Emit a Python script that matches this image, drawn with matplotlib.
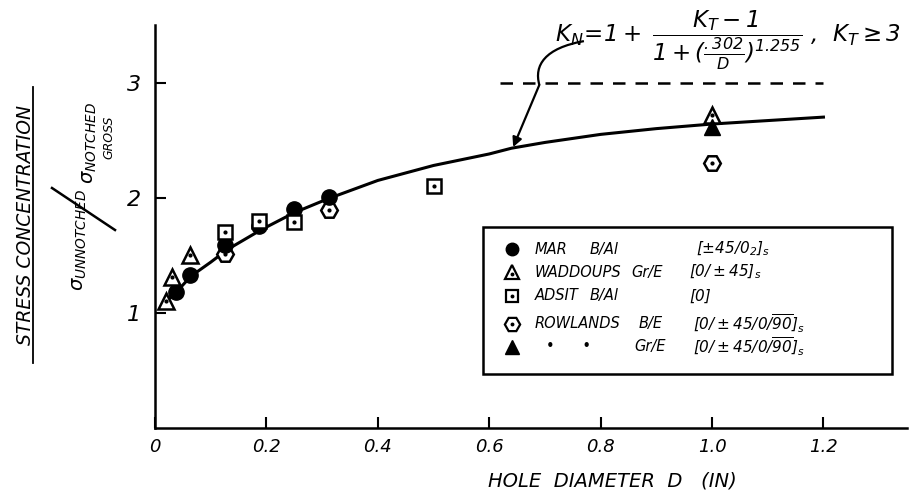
import matplotlib
matplotlib.use("Agg")
import matplotlib.pyplot as plt
from matplotlib.lines import Line2D
from matplotlib.patches import Rectangle
from matplotlib.path import Path
from matplotlib.patches import PathPatch

plt.rcParams['font.family'] = ['DejaVu Sans']
plt.rcParams['font.style'] = 'italic'
plt.rcParams['mathtext.fontset'] = 'dejavusans'
plt.rcParams['mathtext.default'] = 'it'

# ---- data ----
curve_d = [0.015, 0.04, 0.065, 0.10, 0.13, 0.19, 0.25, 0.31, 0.40, 0.50, 0.60, 0.64, 0.70, 0.80, 0.90, 1.00, 1.10, 1.20]
curve_k = [1.08, 1.19, 1.32, 1.44, 1.55, 1.72, 1.87, 1.99, 2.15, 2.28, 2.38, 2.43, 2.48, 2.55, 2.60, 2.64, 2.67, 2.70]

kt_limit = 3.0
kt_line_d = [0.62, 1.20]

mar_d = [0.0375, 0.0625, 0.125, 0.1875, 0.25, 0.3125]
mar_k = [1.18, 1.33, 1.59, 1.75, 1.90, 2.01]

wad_d = [0.019, 0.031, 0.0625, 1.0]
wad_k = [1.10, 1.31, 1.50, 2.72]

adsit_d = [0.125, 0.1875, 0.25, 0.50]
adsit_k = [1.70, 1.80, 1.79, 2.10]

row_be_d = [0.125, 0.3125, 1.0]
row_be_k = [1.51, 1.89, 2.30]

row_gr_d = [1.0]
row_gr_k = [2.61]

x_ticks = [0, 0.2, 0.4, 0.6, 0.8, 1.0, 1.2]
x_tick_labels = ["0", "0.2", "0.4", "0.6", "0.8", "1.0", "1.2"]
y_ticks = [1, 2, 3]
y_tick_labels = ["1", "2", "3"]

legend_names = ["MAR", "WADDOUPS", "ADSIT", "ROWLANDS", "•      •"]
legend_mats = ["B/Al", "Gr/E", "B/Al", "B/E", "Gr/E"]
legend_layups = [r"$[\pm45/0_2]_s$", r"$[0/\pm45]_s$", "[0]",
                 r"$[0/\pm45/0/\overline{90}]_s$", r"$[0/\pm45/0/\overline{90}]_s$"]

# ---- figure ----
fig = plt.figure(figsize=(9.2, 5), dpi=100)
ax = fig.add_axes([155/920, 72/500, 752/920, 403/500])
ax.set_xlim(0, 1.35)
ax.set_ylim(0, 3.5)
for s in ['top', 'right']:
    ax.spines[s].set_visible(False)
for s in ['left', 'bottom']:
    ax.spines[s].set_linewidth(1.8)

ax.set_xticks(x_ticks)
ax.set_xticklabels(x_tick_labels, fontsize=13)
ax.set_yticks(y_ticks)
ax.set_yticklabels(y_tick_labels, fontsize=16)
ax.tick_params(axis='both', direction='in', length=8, width=1.5)
ax.tick_params(axis='x', pad=7)
ax.tick_params(axis='y', pad=10)

# curve and limit line
ax.plot(curve_d, curve_k, color='black', lw=2.2, zorder=2)
ax.plot(kt_line_d, [kt_limit, kt_limit], color='black', lw=1.8,
        linestyle=(0, (5, 4)), zorder=2)

mk = dict(color='black', linestyle='none', zorder=3)
ax.plot(row_be_d, row_be_k, marker='H', markersize=12, markerfacecolor='white',
        markeredgecolor='black', markeredgewidth=1.8, **mk)
ax.plot(mar_d, mar_k, marker='o', markersize=11, **mk)
ax.plot(adsit_d, adsit_k, marker='s', markersize=10, markerfacecolor='white',
        markeredgecolor='black', markeredgewidth=1.8, **mk)
ax.plot(wad_d, wad_k, marker='^', markersize=12, markerfacecolor='white',
        markeredgecolor='black', markeredgewidth=1.8, **mk)
ax.plot(row_gr_d, row_gr_k, marker='^', markersize=12, **mk)
# centre dots of open symbols
for dd, kk in [(row_be_d, row_be_k), (adsit_d, adsit_k), (wad_d, wad_k)]:
    ax.plot(dd, kk, marker='o', markersize=2, color='black', linestyle='none', zorder=4)

# leader from formula to curve
verts = [(0.77, 3.36), (0.70, 3.30), (0.68, 3.15), (0.69, 2.98)]
codes = [Path.MOVETO, Path.CURVE4, Path.CURVE4, Path.CURVE4]
ax.add_patch(PathPatch(Path(verts, codes), facecolor='none', edgecolor='black', lw=1.6,
                       clip_on=False))
ax.annotate("", xy=(0.643, 2.44), xytext=(0.69, 2.98),
            arrowprops=dict(arrowstyle='-|>', color='black', lw=1.6,
                            mutation_scale=14, shrinkA=0, shrinkB=0))

# formula
fig.text(555/920, 1 - 40/500,
         r"$K_N\!=\!1+\;\dfrac{K_T-1}{1+(\frac{.302}{D})^{1.255}}$ ,  $K_T \geq 3$",
         fontsize=16.5, va='center', ha='left')

# legend box (manual)
ax.add_patch(Rectangle((0.436, 0.134), 0.544, 0.365, transform=ax.transAxes,
                       facecolor='white', edgecolor='black', lw=1.8, zorder=5))
row_y = [0.444, 0.387, 0.328, 0.259, 0.201]
mat_x = [0.578, 0.634, 0.578, 0.643, 0.638]
lay_x = [0.72, 0.71, 0.71, 0.715, 0.715]
leg_markers = [dict(marker='o', markersize=9, color='black'),
               dict(marker='^', markersize=10, markerfacecolor='white', markeredgecolor='black', markeredgewidth=1.6),
               dict(marker='s', markersize=8, markerfacecolor='white', markeredgecolor='black', markeredgewidth=1.6),
               dict(marker='H', markersize=11, markerfacecolor='white', markeredgecolor='black', markeredgewidth=1.6),
               dict(marker='^', markersize=10, color='black')]
for i in range(5):
    ax.plot([0.475], [row_y[i]], transform=ax.transAxes, linestyle='none',
            zorder=6, clip_on=False, **leg_markers[i])
    if i in (1, 2, 3):
        ax.plot([0.475], [row_y[i] - (0.006 if i == 1 else 0)], transform=ax.transAxes,
                marker='o', markersize=1.8, color='black', linestyle='none', zorder=7)
    name_x = 0.505 if i < 4 else 0.52
    ax.text(name_x, row_y[i], legend_names[i], transform=ax.transAxes,
            fontsize=10.5, va='center', ha='left', zorder=7)
    ax.text(mat_x[i], row_y[i], legend_mats[i], transform=ax.transAxes,
            fontsize=10.5, va='center', ha='left', zorder=7)
    ax.text(lay_x[i], row_y[i], legend_layups[i], transform=ax.transAxes,
            fontsize=11, va='center', ha='left', zorder=7)

# axis labels
fig.text(612/920, 1 - 481/500, "HOLE  DIAMETER  D   (IN)", fontsize=14,
         ha='center', va='center')
fig.text(26/920, 1 - 225/500, "STRESS CONCENTRATION", fontsize=13.5,
         rotation=90, ha='center', va='center')
fig.add_artist(Line2D([33/920, 33/920], [1 - 363/500, 1 - 87/500],
                      transform=fig.transFigure, color='black', lw=1.3))
fig.text(80/920, 1 - 240/500, r"$\sigma_{UNNOTCHED}$", fontsize=14,
         rotation=90, ha='center', va='center')
fig.add_artist(Line2D([52/920, 115/920], [1 - 188/500, 1 - 230/500],
                      transform=fig.transFigure, color='black', lw=1.8))
fig.text(90/920, 1 - 143/500, r"$\sigma_{NOTCHED}$", fontsize=14,
         rotation=90, ha='center', va='center')
fig.text(109/920, 1 - 137/500, "GROSS", fontsize=9,
         rotation=90, ha='center', va='center')

fig.savefig("out.png", dpi=100, facecolor='white')
